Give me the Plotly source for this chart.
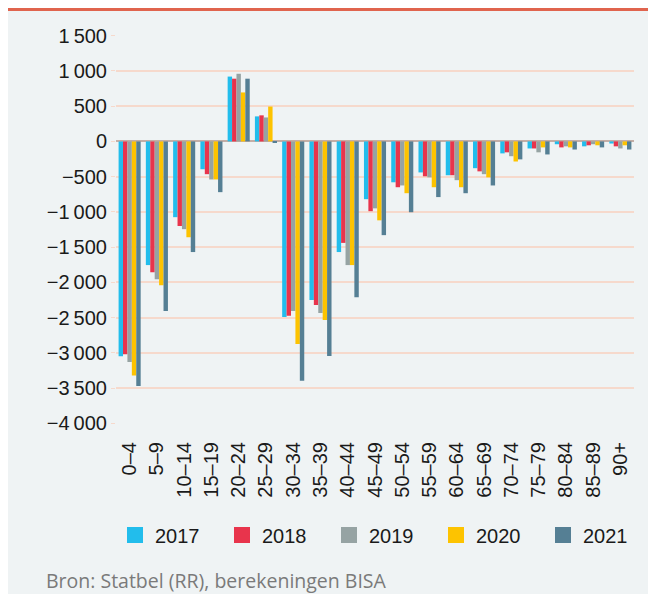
import plotly.graph_objects as go

categories = ["0–4", "5–9", "10–14", "15–19", "20–24", "25–29", "30–34", "35–39",
              "40–44", "45–49", "50–54", "55–59", "60–64", "65–69", "70–74",
              "75–79", "80–84", "85–89", "90+"]

v2017 = [-3050, -1755, -1075, -395, 920, 355, -2490, -2250, -1570, -820, -580, -440,
         -480, -380, -170, -100, -40, -70, -30]
v2018 = [-3020, -1855, -1200, -465, 890, 370, -2475, -2320, -1440, -990, -650, -495,
         -480, -425, -155, -100, -85, -55, -70]
v2019 = [-3130, -1955, -1245, -540, 960, 340, -2405, -2435, -1755, -950, -625, -510,
         -550, -465, -210, -155, -70, -40, -100]
v2020 = [-3320, -2040, -1360, -540, 695, 495, -2875, -2535, -1755, -1120, -735, -650,
         -650, -510, -285, -85, -85, -55, -55]
v2021 = [-3470, -2405, -1570, -720, 890, -15, -3395, -3045, -2210, -1330, -1005, -790,
         -735, -625, -255, -185, -115, -85, -115]

series_names = ["2017", "2018", "2019", "2020", "2021"]
series_values = [v2017, v2018, v2019, v2020, v2021]
colors = ["#22bdec", "#e8344c", "#96a3a3", "#fdc300", "#557f94"]

y_tickvals = [1500, 1000, 500, 0, -500, -1000, -1500, -2000, -2500, -3000, -3500, -4000]
y_ticktext = ["1\u2009500", "1\u2009000", "500", "0", "\u2212500", "\u22121\u2009000",
              "\u22121\u2009500", "\u22122\u2009000", "\u22122\u2009500", "\u22123\u2009000",
              "\u22123\u2009500", "\u22124\u2009000"]

source_text = "Bron: Statbel (RR), berekeningen BISA"

FONT = "Liberation Sans"
BG = "#eff3f4"

fig = go.Figure()
for name, vals, col in zip(series_names, series_values, colors):
    fig.add_trace(go.Bar(x=categories, y=vals, name=name, marker_color=col,
                         marker_line_width=0, showlegend=False))
for name, col in zip(series_names, colors):
    fig.add_trace(go.Scatter(x=[None], y=[None], mode="markers", name=name,
                             marker=dict(symbol="square", size=16, color=col)))

# figure sits at (8, 8) in the page because of the body margin
W, H = 648, 586
L, R, T, B = 108, 22, 27, 170
pw, ph = W - L - R, H - T - B

def px_x(p):
    return (p - L) / pw

def px_y(p):
    return (H - B - p) / ph

fig.update_layout(
    width=W, height=H,
    margin=dict(l=L, r=R, t=T, b=B),
    paper_bgcolor=BG,
    plot_bgcolor="rgba(0,0,0,0)",
    barmode="group",
    bargap=0.19,
    bargroupgap=0,
    font=dict(family=FONT, size=20, color="#1a1a1a"),
    xaxis=dict(
        type="category",
        tickangle=-90,
        showgrid=False,
        ticks="",
        ticklabelstandoff=13,
        tickfont=dict(size=20, color="#1a1a1a"),
    ),
    yaxis=dict(
        range=[-4010, 1510],
        tickvals=y_tickvals,
        ticktext=y_ticktext,
        showgrid=True,
        gridcolor="#f6d9cc",
        gridwidth=2,
        zeroline=True,
        zerolinecolor="#c4aea6",
        zerolinewidth=2,
        ticks="outside",
        ticklen=4,
        tickcolor="#f6d9cc",
        tickfont=dict(size=20, color="#1a1a1a"),
    ),
    legend=dict(
        orientation="h",
        x=-0.002, xanchor="left",
        y=px_y(527), yanchor="middle",
        font=dict(size=20, color="#1a1a1a"),
        bgcolor="rgba(0,0,0,0)",
        bordercolor="rgba(0,0,0,0)",
        borderwidth=6,
        entrywidth=62,
        entrywidthmode="pixels",
        itemclick=False,
    ),
    showlegend=True,
    shapes=[
        dict(type="rect", xref="paper", yref="paper", x0=px_x(0), x1=px_x(W),
             y0=px_y(3), y1=px_y(0), fillcolor="#e0644e", line_width=0, layer="above"),
    ],
    annotations=[
        dict(text=source_text, xref="paper", yref="paper", x=px_x(36), y=px_y(572),
             xanchor="left", yanchor="middle", showarrow=False,
             font=dict(family="Open Sans", size=19.5, color="#7a7a7a")),
    ],
)

fig.write_html("out.html")
